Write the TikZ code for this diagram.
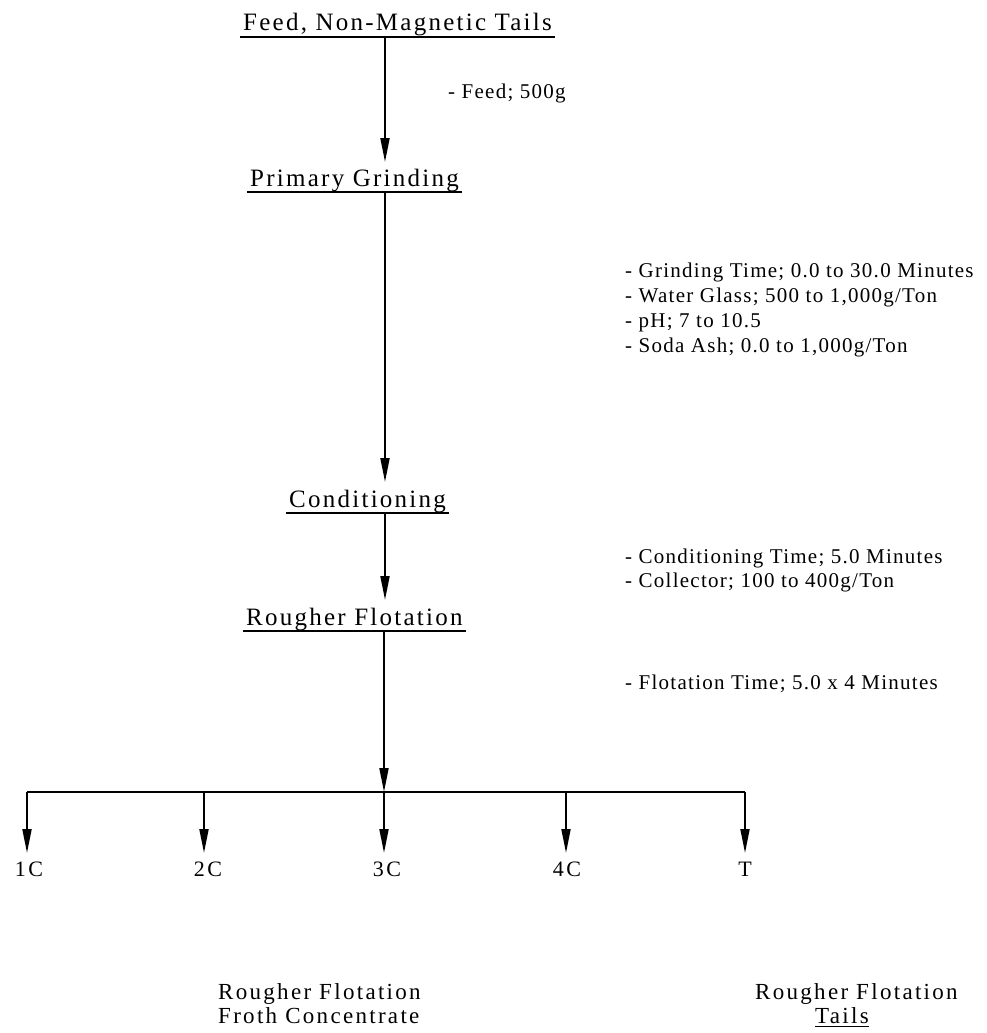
\documentclass[tikz,border=0pt]{standalone}
\usepackage{fontspec}
\setmainfont{Liberation Serif}
\usetikzlibrary{arrows.meta}
\begin{document}
\begin{tikzpicture}[x=1pt,y=-1pt,
  head/.style={inner sep=0pt, anchor=base west, font=\fontsize{25}{29}\selectfont\addfontfeatures{LetterSpace=9}},
  param/.style={inner sep=0pt, anchor=base west, font=\fontsize{21}{25}\selectfont\addfontfeatures{LetterSpace=6}},
  lbl/.style={inner sep=0pt, anchor=base, font=\fontsize{22}{26}\selectfont\addfontfeatures{LetterSpace=12}},
  foot/.style={inner sep=0pt, font=\fontsize{23}{27}\selectfont\addfontfeatures{LetterSpace=10}},
  uline/.style={line width=1.8pt},
  flow/.style={line width=1.8pt, -{Triangle[width=9pt,length=24pt]}},
  plain/.style={line width=1.8pt}
]
\useasboundingbox (0,0) rectangle (987,1033);

% headings
\node[head] (feed) at (243,31) {Feed, Non-Magnetic Tails};
\node[head] (grind) at (250,186) {Primary Grinding};
\node[head] (cond) at (289,507) {Conditioning};
\node[head] (rough) at (246,625) {Rougher Flotation};

\foreach \n in {feed,grind,cond,rough}
  \draw[uline] ([xshift=-3pt,yshift=-6pt]\n.base west) -- ([xshift=3pt,yshift=-6pt]\n.base east);

% parameters
\node[param] (p1) at (448,98) {- Feed; 500g};
\node[param] (g1) at (625,277) {- Grinding Time; 0.0 to 30.0 Minutes};
\node[param] (g2) at (625,302) {- Water Glass; 500 to 1,000g/Ton};
\node[param] (g3) at (625,327) {- pH; 7 to 10.5};
\node[param] (g4) at (625,352) {- Soda Ash; 0.0 to 1,000g/Ton};
\node[param] (c1) at (625,563) {- Conditioning Time; 5.0 Minutes};
\node[param] (c2) at (625,587) {- Collector; 100 to 400g/Ton};
\node[param] (f1) at (625,689) {- Flotation Time; 5.0 x 4 Minutes};

% main flow coordinates
\coordinate (s0) at (385,37);
\coordinate (e0) at (385,162);
\coordinate (s1) at (385,192);
\coordinate (e1) at (385,482);
\coordinate (s2) at (385,513);
\coordinate (e2) at (385,600);
\coordinate (s3) at (384,630);
\coordinate (split) at (384,792);

\draw[flow] (s0) -- (e0);
\draw[flow] (s1) -- (e1);
\draw[flow] (s2) -- (e2);
\draw[flow] (s3) -- (split);

% branch
\coordinate (b1) at (27,792);
\coordinate (b2) at (204,792);
\coordinate (b4) at (566,792);
\coordinate (b5) at (745,792);
\draw[plain] (b1) -- (b5);

\node[lbl] (l1) at (29,876) {1C};
\node[lbl] (l2) at (208,876) {2C};
\node[lbl] (l3) at (387,876) {3C};
\node[lbl] (l4) at (567,876) {4C};
\node[lbl] (l5) at (745,876) {T};

\draw[flow] (b1) -- (b1 |- 0,853);
\draw[flow] (b2) -- (b2 |- 0,853);
\draw[flow] (split) -- (split |- 0,853);
\draw[flow] (b4) -- (b4 |- 0,853);
\draw[flow] (b5) -- (b5 |- 0,853);

% footer
\node[foot, anchor=base west] (fl1) at (218,999) {Rougher Flotation};
\node[foot, anchor=base west] (fl2) at (218,1023) {Froth Concentrate};
\node[foot, anchor=base west] (fr1) at (755,999) {Rougher Flotation};
\node[foot, anchor=base] (fr2) at (842,1023) {Tails};
\draw[line width=1pt] ([yshift=-3pt]fr2.base west) -- ([yshift=-3pt]fr2.base east);
\end{tikzpicture}
\end{document}
